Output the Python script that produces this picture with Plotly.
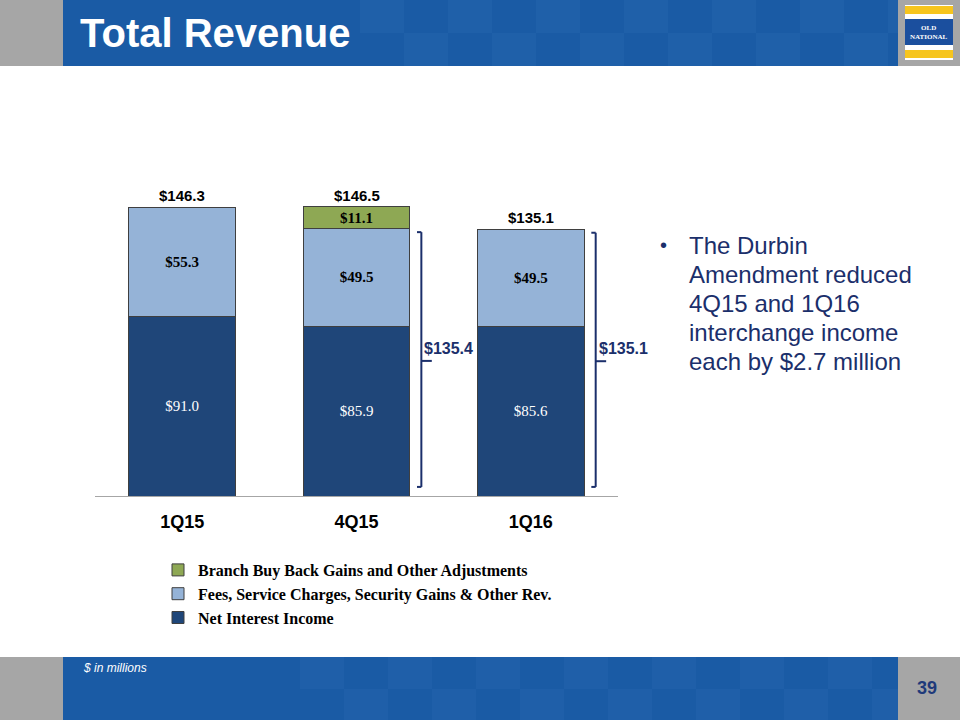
import plotly.graph_objects as go

# ---------------- data ----------------
categories = ["1Q15", "4Q15", "1Q16"]
net_interest = [91.0, 85.9, 85.6]
fees = [55.3, 49.5, 49.5]
branch = [None, 11.1, None]
totals = [146.3, 146.5, 135.1]
subtotal_labels = {1: 135.4, 2: 135.1}   # category index -> bracketed subtotal
bullet_lines = ["The Durbin", "Amendment reduced", "4Q15 and 1Q16",
                "interchange income", "each by $2.7 million"]

# ---------------- layout constants ----------------
W, H = 960, 720
ML, MR, MT, MB = 95, 342, 160, 224
PLOT_W = W - ML - MR
PLOT_H = H - MT - MB
YMAX = PLOT_H / 1.975

def px2x(px):
    return (px - ML) / PLOT_W

def px2y(py):
    return (H - MB - py) / PLOT_H

C_NII = "#1F4679"
C_FEE = "#95B3D7"
C_BR = "#8EA854"
NAVY = "#1B2F6B"
BLUE = "#1A5BA5"
GRAY = "#A6A6A6"
SERIF = "Liberation Serif, Times New Roman, serif"
SANS = "Liberation Sans, Arial, sans-serif"

def fmt(v):
    return "" if v is None else f"${v:.1f}"

fig = go.Figure()
fig.add_trace(go.Bar(
    x=categories, y=net_interest, name="Net Interest Income",
    marker=dict(color=C_NII, line=dict(color="#3F3F3F", width=1)),
    text=[fmt(v) for v in net_interest], textposition="inside",
    insidetextanchor="middle",
    textfont=dict(family=SERIF, size=15, color="white"),
    hoverinfo="skip"))
fig.add_trace(go.Bar(
    x=categories, y=fees, name="Fees, Service Charges, Security Gains & Other Rev.",
    marker=dict(color=C_FEE, line=dict(color="#3F3F3F", width=1)),
    text=[fmt(v) for v in fees], textposition="inside",
    insidetextanchor="middle",
    textfont=dict(family=SERIF, size=15, color="black", weight="bold"),
    hoverinfo="skip"))
fig.add_trace(go.Bar(
    x=categories, y=branch, name="Branch Buy Back Gains and Other Adjustments",
    marker=dict(color=C_BR, line=dict(color="#3F3F3F", width=1)),
    text=[fmt(v) for v in branch], textposition="inside",
    insidetextanchor="middle",
    textfont=dict(family=SERIF, size=15, color="black", weight="bold"),
    hoverinfo="skip"))

shapes = []
annotations = []

# totals above bars
for i, t in enumerate(totals):
    annotations.append(dict(x=categories[i], y=t, xref="x", yref="y",
                            text=f"<b>${t:.1f}</b>", showarrow=False,
                            yanchor="bottom", yshift=1,
                            font=dict(family=SANS, size=15, color="black")))

# brackets
for idx, sub in subtotal_labels.items():
    bx = idx + 0.372
    top = sub - 1.8
    bot = 4.6
    mid = sub / 2 + 0.7
    line = dict(color=NAVY, width=2)
    shapes += [
        dict(type="line", xref="x", yref="y", x0=bx, x1=bx, y0=bot, y1=top, line=line),
        dict(type="line", xref="x", yref="y", x0=bx - 0.025, x1=bx, y0=top, y1=top, line=line),
        dict(type="line", xref="x", yref="y", x0=bx - 0.025, x1=bx, y0=bot, y1=bot, line=line),
        dict(type="line", xref="x", yref="y", x0=bx, x1=bx + 0.06, y0=mid, y1=mid, line=line),
    ]
    annotations.append(dict(x=bx + 0.005, y=mid, xref="x", yref="y",
                            text=f"<b>${sub:.1f}</b>", showarrow=False,
                            xanchor="left", yanchor="bottom", yshift=2,
                            font=dict(family="Liberation Sans", size=16, color=NAVY)))

# ---- header ----
shapes += [
    dict(type="rect", xref="paper", yref="paper", x0=px2x(0), x1=px2x(63),
         y0=px2y(66), y1=px2y(0), fillcolor=GRAY, line_width=0, layer="below"),
    dict(type="rect", xref="paper", yref="paper", x0=px2x(63), x1=px2x(898),
         y0=px2y(66), y1=px2y(0), fillcolor=BLUE, line_width=0, layer="below"),
    dict(type="rect", xref="paper", yref="paper", x0=px2x(898), x1=px2x(960),
         y0=px2y(66), y1=px2y(0), fillcolor=GRAY, line_width=0, layer="below"),
]
# subtle checker pattern
for k, xs in enumerate(range(360, 898, 44)):
    for r in range(2):
        if (k + r) % 2 == 0:
            shapes.append(dict(type="rect", xref="paper", yref="paper",
                               x0=px2x(xs), x1=px2x(min(xs + 44, 898)),
                               y0=px2y(33 * (r + 1)), y1=px2y(33 * r),
                               fillcolor="#2A6BB2", opacity=0.35, line_width=0,
                               layer="below"))
# logo
shapes += [
    dict(type="rect", xref="paper", yref="paper", x0=px2x(905), x1=px2x(953),
         y0=px2y(60), y1=px2y(5), fillcolor="white", line_width=0, layer="below"),
    dict(type="rect", xref="paper", yref="paper", x0=px2x(905), x1=px2x(953),
         y0=px2y(14), y1=px2y(6), fillcolor="#F6C51E", line_width=0, layer="below"),
    dict(type="rect", xref="paper", yref="paper", x0=px2x(905), x1=px2x(953),
         y0=px2y(45), y1=px2y(19), fillcolor="#1B4F9E", line_width=0, layer="below"),
    dict(type="rect", xref="paper", yref="paper", x0=px2x(905), x1=px2x(953),
         y0=px2y(58), y1=px2y(50), fillcolor="#F6C51E", line_width=0, layer="below"),
]
annotations.append(dict(x=px2x(929), y=px2y(32), xref="paper", yref="paper",
                        text="<b>OLD<br>NATIONAL</b>", showarrow=False,
                        xanchor="center", yanchor="middle",
                        font=dict(family=SERIF, size=7, color="white")))
annotations.append(dict(x=px2x(78), y=px2y(33), xref="paper", yref="paper",
                        text="<b>Total Revenue</b>", showarrow=False,
                        xanchor="left", yanchor="middle",
                        font=dict(family="Liberation Sans, Arial", size=40, color="white")))

# ---- footer ----
shapes += [
    dict(type="rect", xref="paper", yref="paper", x0=px2x(0), x1=px2x(63),
         y0=px2y(720), y1=px2y(657), fillcolor=GRAY, line_width=0, layer="below"),
    dict(type="rect", xref="paper", yref="paper", x0=px2x(63), x1=px2x(898),
         y0=px2y(720), y1=px2y(657), fillcolor=BLUE, line_width=0, layer="below"),
    dict(type="rect", xref="paper", yref="paper", x0=px2x(898), x1=px2x(960),
         y0=px2y(720), y1=px2y(657), fillcolor=GRAY, line_width=0, layer="below"),
]
for k, xs in enumerate(range(300, 898, 44)):
    for r in range(2):
        if (k + r) % 2 == 0:
            shapes.append(dict(type="rect", xref="paper", yref="paper",
                               x0=px2x(xs), x1=px2x(min(xs + 44, 898)),
                               y0=px2y(657 + 32 * (r + 1)), y1=px2y(657 + 32 * r),
                               fillcolor="#2A6BB2", opacity=0.3, line_width=0,
                               layer="below"))
annotations.append(dict(x=px2x(81), y=px2y(668), xref="paper", yref="paper",
                        text="<i>$ in millions</i>", showarrow=False,
                        xanchor="left", yanchor="middle",
                        font=dict(family=SANS, size=12, color="white")))
annotations.append(dict(x=px2x(927), y=px2y(688), xref="paper", yref="paper",
                        text="<b>39</b>", showarrow=False,
                        xanchor="center", yanchor="middle",
                        font=dict(family=SANS, size=18, color="#1F3A7A")))

# ---- bullet text ----
annotations.append(dict(x=px2x(663), y=px2y(245), xref="paper", yref="paper",
                        text="•", showarrow=False, xanchor="center", yanchor="middle",
                        font=dict(family=SANS, size=20, color=NAVY)))
for j, ln in enumerate(bullet_lines):
    annotations.append(dict(x=px2x(687), y=px2y(245 + 29 * j), xref="paper", yref="paper",
                            text=ln, showarrow=False, xanchor="left", yanchor="middle",
                            font=dict(family=SANS, size=24, color=NAVY)))

fig.update_layout(
    width=W, height=H,
    margin=dict(l=ML, r=MR, t=MT, b=MB, pad=0),
    paper_bgcolor="white", plot_bgcolor="white",
    barmode="stack", bargap=0.387,
    uniformtext=dict(minsize=15, mode="show"),
    showlegend=True,
    legend=dict(orientation="v", traceorder="reversed",
                x=px2x(158), y=px2y(553), xanchor="left", yanchor="top",
                font=dict(family=SERIF, size=16, color="black", weight="bold"),
                bgcolor="rgba(0,0,0,0)", tracegroupgap=0),
    xaxis=dict(range=[-0.5, 2.5], showline=True, linecolor="#A6A6A6", linewidth=1,
               showgrid=False, zeroline=False, ticks="",
               tickfont=dict(family=SANS, size=18, color="black", weight="bold"),
               ticklabelstandoff=9, fixedrange=True),
    yaxis=dict(range=[0, YMAX], visible=False, fixedrange=True),
    shapes=shapes, annotations=annotations,
)

fig.write_html("out.html", config={"displayModeBar": False},
               post_script="document.body.style.margin='0';document.body.style.padding='0';")
